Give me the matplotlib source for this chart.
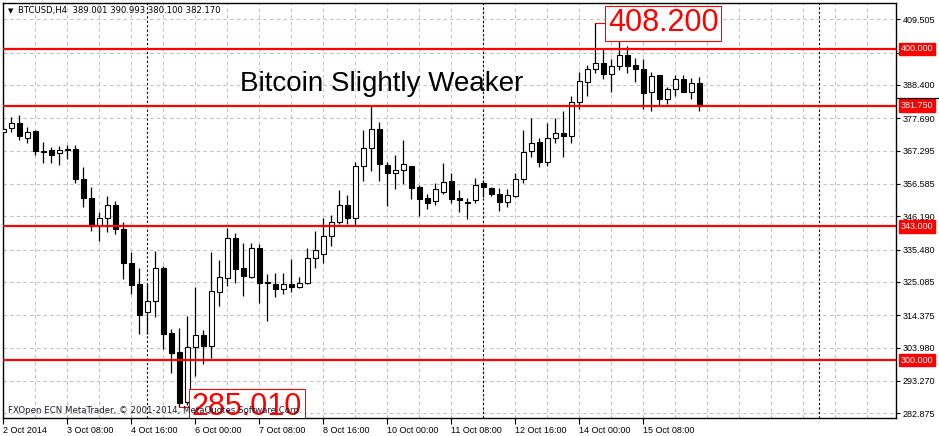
import numpy as np
import matplotlib
matplotlib.use('Agg')
import matplotlib.pyplot as plt
import matplotlib.transforms as mtransforms


# BTCUSD H4 candles, 2 Oct 2014 00:00 onwards
opens = [373.19, 374.47, 376.18, 371.26, 373.61, 367.18, 367.50, 366.44, 367.72, 367.72,
         358.08, 351.98, 343.07, 345.55, 349.82, 342.01, 331.09, 324.34, 315.34, 318.87,
         329.48, 308.59, 302.58, 286.51, 304.28, 307.94, 304.60, 321.76, 326.46, 339.12,
         329.48, 326.78, 335.91, 324.70, 324.34, 322.73, 324.43, 323.56, 324.66, 332.69,
         333.98, 339.86, 344.46, 349.73, 345.74, 362.26, 368.05, 374.15, 362.58, 360.01,
         360.98, 362.26, 355.61, 351.98, 351.01, 353.91, 357.54, 352.07, 350.60, 351.33,
         356.80, 355.19, 353.26, 350.69, 352.81, 358.08, 367.08, 369.98, 363.74, 371.26,
         372.87, 372.10, 382.83, 389.36, 393.44, 395.56, 391.83, 394.50, 398.03, 394.82,
         393.44, 386.04, 391.51, 383.79, 387.01, 390.22, 386.24, 389.001]
highs = [374.89, 378.01, 378.85, 374.89, 373.80, 370.17, 368.56, 368.79, 369.01, 369.20,
         361.94, 355.51, 347.57, 352.72, 351.11, 344.26, 334.72, 329.57, 324.34, 335.04,
         330.31, 309.97, 310.19, 314.15, 323.56, 309.65, 334.72, 332.15, 342.53, 340.92,
         337.51, 337.51, 337.29, 327.55, 327.87, 327.87, 332.37, 326.59, 335.91, 341.47,
         345.55, 346.51, 354.64, 353.04, 363.64, 373.93, 381.96, 376.50, 363.74, 365.89,
         370.71, 362.40, 356.25, 353.26, 356.99, 363.42, 360.01, 354.64, 352.17, 358.40,
         357.86, 355.51, 355.19, 354.87, 360.01, 373.93, 377.88, 371.45, 376.08, 377.88,
         380.03, 384.86, 392.67, 394.82, 408.20, 400.19, 396.65, 403.91, 400.93, 396.97,
         396.65, 392.67, 391.60, 387.65, 391.60, 391.60, 390.54, 390.993]
lows = [372.64, 373.19, 370.71, 369.85, 365.80, 363.42, 363.23, 362.68, 364.61, 356.80,
        349.28, 341.56, 338.35, 341.24, 340.41, 326.04, 321.22, 308.27, 308.27, 313.92,
        303.44, 295.73, 285.01, 285.54, 294.86, 298.72, 300.75, 317.46, 323.89, 324.66,
        320.67, 326.46, 318.42, 312.64, 320.35, 321.22, 321.96, 323.15, 324.50, 329.67,
        331.28, 336.74, 343.72, 343.72, 343.39, 357.63, 360.85, 357.63, 349.60, 354.87,
        356.57, 351.66, 346.38, 348.54, 349.82, 353.36, 350.56, 347.67, 345.23, 350.37,
        352.49, 352.72, 347.99, 349.28, 352.30, 356.80, 365.35, 361.94, 362.36, 369.85,
        365.35, 369.85, 380.77, 384.86, 392.34, 390.32, 386.24, 393.21, 392.15, 389.45,
        380.58, 380.13, 382.12, 382.28, 384.86, 386.10, 383.79, 380.100]
closes = [374.25, 376.18, 372.10, 373.29, 367.28, 366.76, 366.00, 367.50, 367.40, 358.08,
          351.98, 343.07, 345.55, 349.73, 342.01, 331.09, 324.21, 314.57, 318.97, 329.48,
          308.46, 302.16, 286.28, 304.34, 307.94, 304.50, 322.09, 326.59, 339.12, 329.25,
          327.10, 335.91, 324.66, 324.62, 322.92, 324.34, 323.56, 324.66, 332.69, 335.26,
          339.86, 344.26, 349.73, 345.74, 362.26, 368.05, 374.15, 362.90, 360.01, 360.98,
          362.90, 355.38, 351.85, 350.56, 354.87, 357.21, 351.85, 351.33, 350.52, 356.15,
          355.71, 353.26, 350.69, 352.94, 358.08, 366.76, 369.85, 363.74, 371.26, 372.87,
          372.10, 382.83, 389.68, 393.44, 395.56, 391.83, 394.50, 398.03, 394.60, 393.44,
          385.91, 391.38, 383.79, 387.01, 390.22, 386.24, 388.94, 382.170]

price_ticks = [409.505, 398.795, 388.400, 377.690, 367.295, 356.585, 346.190,
               335.480, 325.085, 314.375, 303.980, 293.270, 282.875]
date_labels = ['2 Oct 2014', '3 Oct 08:00', '4 Oct 16:00', '6 Oct 00:00', '7 Oct 08:00',
               '8 Oct 16:00', '10 Oct 00:00', '11 Oct 08:00', '12 Oct 16:00',
               '14 Oct 00:00', '15 Oct 08:00']
date_bars = [0, 8, 16, 24, 32, 40, 48, 56, 64, 72, 80]
week_starts = [18, 60, 102]
levels = [400.0, 381.75, 343.0, 300.0]
high_bar, high_price = 74, 408.200
low_bar, low_price = 22, 285.010

tick_font = 'Liberation Sans'

fig = plt.figure(figsize=(9.39, 4.36), dpi=100)
ax = fig.add_axes([3 / 939, 18 / 436, 893 / 939, 415 / 436])
ax.set_xlim(-0.05, 111.575)
ax.set_ylim(281.36, 414.75)

# grid
grid_kw = dict(color='#c0c0c0', lw=0.8, ls=(0, (3, 3)))
ax.set_yticks(price_ticks)
ax.set_yticklabels([f'{v:.3f}' for v in price_ticks], family=tick_font)
ax.grid(axis='y', **grid_kw)
ax.set_axisbelow(True)
for i in range(4, 112, 4):
    ax.axvline(i, zorder=0.5, **grid_kw)
for i in week_starts:
    ax.axvline(i, color='black', lw=0.8, ls=(0, (2, 2)), zorder=0.6)

# candles
x = np.arange(len(opens))
o = np.array(opens)
c = np.array(closes)
ax.vlines(x, lows, highs, color='black', lw=0.9, zorder=2)
body_colors = ['white' if cc >= oo else 'black' for oo, cc in zip(o, c)]
ax.bar(x, np.maximum(np.abs(c - o), 0.3), width=0.6, bottom=np.minimum(o, c),
       color=body_colors, edgecolor='black', linewidth=0.8, zorder=3)

# horizontal levels
for lv in levels:
    ax.axhline(lv, color='red', lw=1.6, zorder=4)

# axes styling
for s in ax.spines.values():
    s.set_color('black')
    s.set_linewidth(1.0)
ax.yaxis.tick_right()
ax.tick_params(axis='y', length=3, width=0.8, pad=2, labelsize=6.5)
ax.set_xticks(date_bars)
ax.set_xticklabels(date_labels, family=tick_font)
ax.tick_params(axis='x', length=4, width=0.8, pad=1.5, labelsize=6.5)
for lbl in ax.get_xticklabels():
    lbl.set_horizontalalignment('left')

# red price labels on the axis
trans = mtransforms.blended_transform_factory(ax.transAxes, ax.transData)
for lv in levels:
    ax.text(1.0 + 5 / 893, lv, f'{lv:.3f}', transform=trans, ha='left', va='center',
            fontsize=6.5, family=tick_font, color='white', clip_on=False, zorder=10,
            bbox=dict(boxstyle='square,pad=0.2', fc='red', ec='red'))
ax.plot([1.0, 1.05], [384.1, 384.1], transform=trans, color='black', lw=0.9,
        clip_on=False, zorder=11)

# high / low annotations
ax.plot([high_bar, high_bar + 1.4], [high_price, high_price], color='red', lw=0.8, zorder=5)
ax.text(high_bar + 1.55, high_price, f'{high_price:.3f}', ha='left', va='center',
        fontsize=22, family='Liberation Sans', color='red', zorder=6,
        bbox=dict(boxstyle='square,pad=0.08', fc='white', ec='red', lw=0.8))
ax.plot([low_bar, low_bar + 1.4], [low_price, low_price], color='red', lw=0.8, zorder=5)
ax.text(low_bar + 1.55, low_price, f'{low_price:.3f}', ha='left', va='center',
        fontsize=22, family='Liberation Sans', color='red', zorder=6, clip_on=True,
        bbox=dict(boxstyle='square,pad=0.08', fc='white', ec='red', lw=0.8))

# texts
ax.text((240 - 3) / 893, (418 - 91) / 415, 'Bitcoin Slightly Weaker', transform=ax.transAxes,
        fontsize=20, family='Liberation Sans', color='black', va='baseline', zorder=7)
ax.text((8 - 3) / 893, (418 - 10.7) / 415, '\u25bc', transform=ax.transAxes,
        fontsize=5, va='center', ha='left', zorder=7)
ax.text((18 - 3) / 893, (418 - 10.7) / 415, 'BTCUSD,H4  389.001 390.993 380.100 382.170',
        transform=ax.transAxes, fontsize=6.1, va='center', ha='left', zorder=7)
ax.text((8 - 3) / 893, (418 - 410) / 415,
        'FXOpen ECN MetaTrader, \u00a9 2001-2014, MetaQuotes Software Corp.',
        transform=ax.transAxes, fontsize=6.2, va='center', ha='left', color='#1a1a2e', zorder=8)

fig.savefig('out.png', dpi=100)
